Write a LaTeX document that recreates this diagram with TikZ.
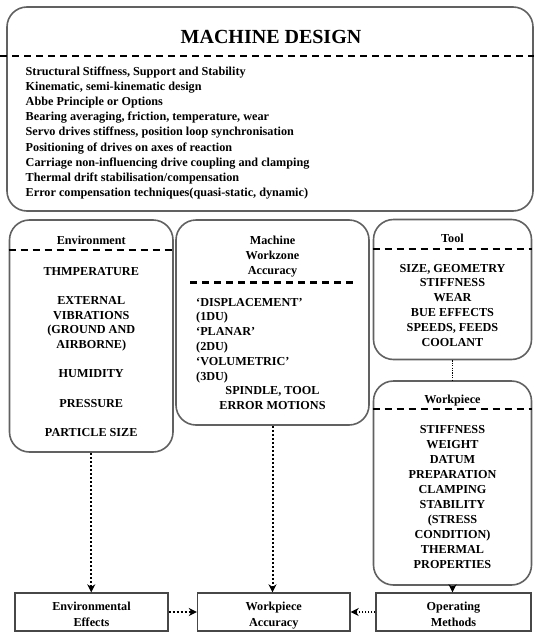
\documentclass[tikz,border=0pt]{standalone}
\usepackage{fontspec}
\setmainfont{Liberation Serif}
\usetikzlibrary{arrows.meta}
\begin{document}
\begin{tikzpicture}[x=1pt,y=-1pt,
  rbox/.style={draw=black!62, line width=1.6pt, rounded corners=20pt, inner sep=0pt},
  sbox/.style={draw=black!72, line width=1.4pt, inner sep=0pt, minimum height=38pt},
  dashline/.style={line width=2.4pt, dash pattern=on 7pt off 5pt},
  txt/.style={font=\bfseries\fontsize{12.2}{14}\selectfont, inner sep=0pt, anchor=base},
  dotarrow/.style={line width=2pt, dash pattern=on 2pt off 2pt, -{Stealth[length=8pt,width=8pt]}},
  dotarrowthin/.style={line width=1.2pt, dash pattern=on 1.5pt off 1.5pt, -{Stealth[length=8pt,width=8pt]}},
  dotthin/.style={line width=1.2pt, dash pattern=on 1.2pt off 1.2pt}
]
\useasboundingbox (0,0) rectangle (534,632);
\fill[white] (0,0) rectangle (534,632);

% ---------- boxes ----------
\node[rbox, minimum width=526pt, minimum height=204pt] (md) at (270,109) {};
\node[rbox, minimum width=163.5pt, minimum height=232pt] (env) at (91.25,336) {};
\node[rbox, minimum width=193pt, minimum height=205pt] (mwa) at (272.5,322.5) {};
\node[rbox, minimum width=158pt, minimum height=140pt] (tool) at (452.5,289.5) {};
\node[rbox, minimum width=158pt, minimum height=204pt] (wp) at (452.5,483) {};
\node[sbox, minimum width=153pt] (ee) at (91.5,612) {};
\node[sbox, minimum width=152.5pt] (wa) at (273.75,612) {};
\node[sbox, minimum width=155pt] (om) at (453.5,612) {};

% ---------- dashed separators ----------
\draw[dashline] (0,56) -- (534,56);
\draw[dashline] (env.west |- 0,250) -- (env.east |- 0,250);
\draw[dashline] (190,282.5) -- (355,282.5);
\draw[dashline] (tool.west |- 0,249) -- (tool.east |- 0,249);
\draw[dashline] (wp.west |- 0,409) -- (wp.east |- 0,409);

% ---------- machine design ----------
\node[txt, font=\bfseries\fontsize{20}{24}\selectfont] (mdtitle) at (271,43) {MACHINE DESIGN};
\foreach \t [count=\i from 0] in {
  {Structural Stiffness, Support and Stability},
  {Kinematic, semi-kinematic design},
  {Abbe Principle or Options},
  {Bearing averaging, friction, temperature, wear},
  {Servo drives stiffness, position loop synchronisation},
  {Positioning of drives on axes of reaction},
  {Carriage non-influencing drive coupling and clamping},
  {Thermal drift stabilisation/compensation},
  {Error compensation techniques(quasi-static, dynamic)}}
  \node[txt, anchor=base west] (mdl\i) at (25.5,{75.5+15.1*\i}) {\t};

% ---------- environment ----------
\node[txt] (envtitle) at (91.25,244.5) {Environment};
\foreach \t/\k [count=\i] in {{THMPERATURE}/0, {EXTERNAL}/2, {VIBRATIONS}/3,
  {(GROUND AND}/4, {AIRBORNE)}/5, {HUMIDITY}/7, {PRESSURE}/9, {PARTICLE SIZE}/11}
  \node[txt] (envl\i) at (91.25,{275+14.7*\k}) {\t};

% ---------- machine workzone accuracy ----------
\node[txt] (mwat1) at (272.5,244.5) {Machine};
\node[txt] (mwat2) at (272.5,259.3) {Workzone};
\node[txt] (mwat3) at (272.5,274.1) {Accuracy};
\foreach \t [count=\i from 0] in {{`DISPLACEMENT'}, {(1DU)}, {`PLANAR'}, {(2DU)}, {`VOLUMETRIC'}, {(3DU)}}
  \node[txt, anchor=base west] (mwal\i) at (196,{306+14.8*\i}) {\t};
\node[txt] (mwal6) at (272.5,{306+14.8*6}) {SPINDLE, TOOL};
\node[txt] (mwal7) at (272.5,{306+14.8*7}) {ERROR MOTIONS};

% ---------- tool ----------
\node[txt] (tooltitle) at (452.5,242.5) {Tool};
\foreach \t [count=\i from 0] in {{SIZE, GEOMETRY}, {STIFFNESS}, {WEAR}, {BUE EFFECTS}, {SPEEDS, FEEDS}, {COOLANT}}
  \node[txt] (tooll\i) at (452.5,{272+14.8*\i}) {\t};

% ---------- workpiece ----------
\node[txt] (wptitle) at (452.5,403) {Workpiece};
\foreach \t [count=\i from 0] in {{STIFFNESS}, {WEIGHT}, {DATUM}, {PREPARATION}, {CLAMPING}, {STABILITY},
  {(STRESS}, {CONDITION)}, {THERMAL}, {PROPERTIES}}
  \node[txt] (wpl\i) at (452.5,{433+15*\i}) {\t};

% ---------- bottom boxes text ----------
\node[txt] (eet1) at (ee.center |- 0,610) {Environmental};
\node[txt] (eet2) at (ee.center |- 0,626) {Effects};
\node[txt] (wat1) at (wa.center |- 0,610) {Workpiece};
\node[txt] (wat2) at (wa.center |- 0,626) {Accuracy};
\node[txt] (omt1) at (om.center |- 0,610) {Operating};
\node[txt] (omt2) at (om.center |- 0,626) {Methods};

% ---------- connectors ----------
\draw[dotthin] (tool.south) -- (wp.north);
\draw[dotarrow] (env.south) -- (env.south |- ee.north);
\draw[dotarrow] (mwa.south) -- (mwa.south |- wa.north);
\draw[dotarrow] (wp.south) -- (wp.south |- om.north);
\draw[dotarrow] (ee.east) -- (wa.west);
\draw[dotarrowthin] (om.west) -- (wa.east);
\end{tikzpicture}
\end{document}
